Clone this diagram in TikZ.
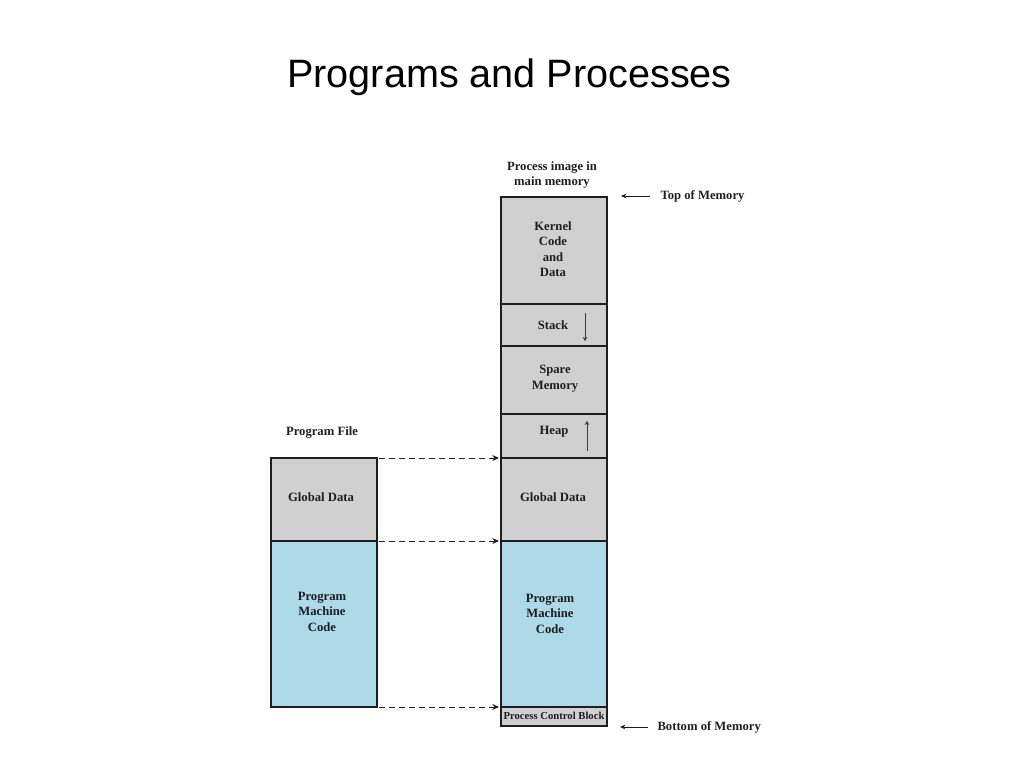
\documentclass[tikz,border=0pt]{standalone}
\usepackage{fontspec}
\setmainfont{Liberation Serif}
\newfontfamily\titlefont{Liberation Sans}
\usetikzlibrary{arrows.meta}
\definecolor{blockgray}{RGB}{208,208,208}
\definecolor{blockblue}{RGB}{173,217,232}
\definecolor{textdark}{RGB}{30,30,30}
\tikzset{every picture/.style={line width=0.75pt}}

\begin{document}
\begin{tikzpicture}[x=0.75pt,y=0.75pt,yscale=-1,xscale=1,
	memblock/.style={draw={rgb, 255:red, 30; green, 30; blue, 30}, line width=1.8pt, minimum width=79.5pt, inner sep=0pt, outer sep=0pt},
	grayblock/.style={memblock, fill=blockgray},
	blueblock/.style={memblock, fill=blockblue},
	lbl/.style={font=\fontsize{9.5}{11.6}\selectfont\bfseries, text=textdark, align=center, inner sep=0pt},
	maplink/.style={draw=textdark, dash pattern={on 4.5pt off 3pt}, -{Stealth[length=5pt,width=4.5pt]}},
	memptr/.style={draw=textdark, -{Stealth[length=4pt,width=3.5pt]}},
	growptr/.style={draw={rgb, 255:red, 60; green, 60; blue, 60}, -{Stealth[length=3pt,width=3.5pt]}}]
	\useasboundingbox (0,0) rectangle (1024,768);

	% Title
	\node[font=\titlefont\fontsize{29.7}{36}\selectfont, anchor=base] (title) at (509.5,87) {Programs and Processes};

	%Shape: Rectangle -- process image
	\node[grayblock, minimum height=80.25pt] (kernel) at (554,250.5) {};
	\node[grayblock, minimum height=31.5pt] (stack) at (554,325) {};
	\node[grayblock, minimum height=51pt] (spare) at (554,380) {};
	\node[grayblock, minimum height=33pt] (heap) at (554,436) {};
	\node[grayblock, minimum height=62.25pt] (imgdata) at (554,499.5) {};
	\node[blueblock, minimum height=124.5pt] (imgcode) at (554,624) {};
	\node[grayblock, minimum height=14.25pt] (pcb) at (554,716.5) {};

	%Shape: Rectangle -- program file
	\node[grayblock, minimum height=62.25pt] (fildata) at (324,499.5) {};
	\node[blueblock, minimum height=124.5pt] (filcode) at (324,624) {};

	% Text Node
	\node[lbl] (imgtitle) at (552,175) {Process image in\\main memory};
	\node[lbl] (kerneltext) at (553,249) {Kernel\\Code\\and\\Data};
	\node[lbl] (stacktext) at (553,325) {Stack};
	\node[lbl] (sparetext) at (555,378.5) {Spare\\Memory};
	\node[lbl] (heaptext) at (554,432) {Heap};
	\node[lbl] (imgdatatext) at (553,497) {Global Data};
	\node[lbl] (imgcodetext) at (550,613.5) {Program\\Machine\\Code};
	\node[lbl, font=\fontsize{8}{9.6}\selectfont\bfseries] (pcbtext) at (554,715.5) {Process Control Block};
	\node[lbl] (filetitle) at (322,432) {Program File};
	\node[lbl] (fildatatext) at (321,497) {Global Data};
	\node[lbl] (filcodetext) at (322,611.5) {Program\\Machine\\Code};
	\node[lbl, anchor=west] (toplbl) at (660,196) {Top of Memory};
	\node[lbl, anchor=west] (botlbl) at (657,727) {Bottom of Memory};

	%Straight Lines -- stack and heap growth
	\coordinate (stacktop) at (585,313);
	\coordinate (stackbot) at (585,341);
	\draw[growptr] (stacktop) -- (stackbot);
	\coordinate (heapbot) at (587,451);
	\coordinate (heaptop) at (587,421);
	\draw[growptr] (heapbot) -- (heaptop);

	%Straight Lines -- top and bottom of memory
	\coordinate (toptail) at (650,196);
	\coordinate (tophead) at (621,196);
	\draw[memptr] (toptail) -- (tophead);
	\coordinate (bottail) at (648,727);
	\coordinate (bothead) at (620,727);
	\draw[memptr] (bottail) -- (bothead);

	%Straight Lines -- loading
	\draw[maplink, shorten <=1.5pt, shorten >=1.5pt] (fildata.north east) -- (imgdata.north west);
	\draw[maplink, shorten <=1.5pt, shorten >=1.5pt] (filcode.north east) -- (imgcode.north west);
	\draw[maplink, shorten <=1.5pt, shorten >=1.5pt] (filcode.south east) -- (pcb.north west);

\end{tikzpicture}
\end{document}
